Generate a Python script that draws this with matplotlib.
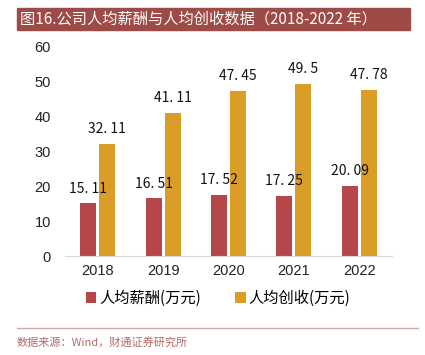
import numpy as np
import matplotlib
matplotlib.use('Agg')
import matplotlib.pyplot as plt
from matplotlib.patches import Rectangle
from matplotlib.lines import Line2D

plt.rcParams['font.family'] = ['Noto Sans CJK SC', 'DejaVu Sans']

years = ['2018', '2019', '2020', '2021', '2022']
salary = [15.11, 16.51, 17.52, 17.25, 20.09]
revenue = [32.11, 41.11, 47.45, 49.5, 47.78]
salary_labels = ['15. 11', '16. 51', '17. 52', '17. 25', '20. 09']
revenue_labels = ['32. 11', '41. 11', '47. 45', '49. 5', '47. 78']

red = '#B5474A'
gold = '#DA9E27'

fig = plt.figure(figsize=(4.25, 3.55), dpi=100)
ax = fig.add_axes([65 / 425, 99 / 355, 327 / 425, 209 / 355])

x = np.arange(len(years))
w = 0.245
off = 0.145
b1 = ax.bar(x - off, salary, w, color=red, label='人均薪酬(万元)')
b2 = ax.bar(x + off, revenue, w, color=gold, label='人均创收(万元)')

for rect, lab in zip(b1, salary_labels):
    ax.text(rect.get_x() + rect.get_width() / 2, rect.get_height() + 2.2, lab,
            ha='center', va='bottom', fontsize=10, color='#111111')
for rect, lab in zip(b2, revenue_labels):
    ax.text(rect.get_x() + rect.get_width() / 2, rect.get_height() + 2.2, lab,
            ha='center', va='bottom', fontsize=10, color='#111111')

ax.set_xlim(-0.5, 4.5)
ax.set_ylim(0, 60)
ax.set_yticks(range(0, 61, 10))
ax.set_xticks(x)
ax.set_xticklabels(years)
for lbl in ax.get_xticklabels() + ax.get_yticklabels():
    lbl.set_family(['Liberation Sans', 'DejaVu Sans'])
for s in ['top', 'right', 'left']:
    ax.spines[s].set_visible(False)
ax.spines['bottom'].set_color('#D9D9D9')
ax.tick_params(axis='both', length=0, labelsize=10.5, colors='#222222')
ax.tick_params(axis='y', pad=10)
ax.tick_params(axis='x', pad=6)

ax.legend(loc='center', bbox_to_anchor=(218 / 425, 1 - 298 / 355), bbox_transform=fig.transFigure,
          ncol=2, frameon=False, fontsize=11, handlelength=0.7, handleheight=0.7,
          handletextpad=0.2, columnspacing=2.2)

# title bar
fig.patches.append(Rectangle((17 / 425, 1 - 30 / 355), 393 / 425, 22 / 355,
                             transform=fig.transFigure, color='#9E4A46', zorder=0))
fig.text(20 / 425, 1 - 19 / 355, '图16.公司人均薪酬与人均创收数据（2018-2022 年）',
         color='white', fontsize=11, va='center', ha='left')

# separator and source
fig.lines.append(Line2D([17 / 425, 418 / 425], [1 - 328 / 355, 1 - 328 / 355],
                        transform=fig.transFigure, color='#D9A3A3', lw=1))
fig.text(17 / 425, 1 - 342 / 355, '数据来源：Wind，财通证券研究所',
         color='#B26A6A', fontsize=8, va='center', ha='left')

fig.savefig('out.png', dpi=100)
